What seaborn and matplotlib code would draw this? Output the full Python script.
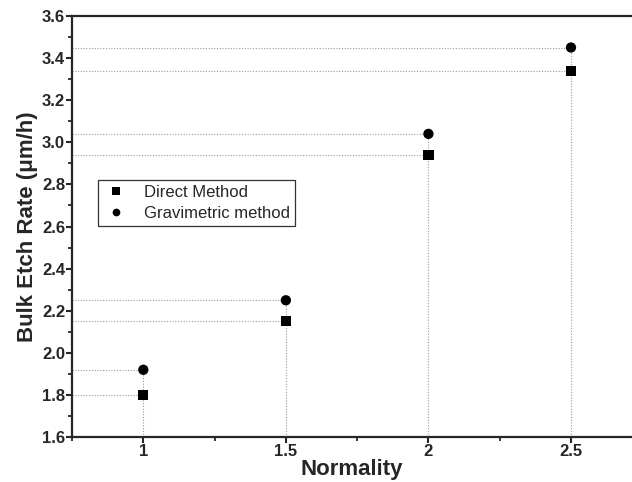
import numpy as np
import pandas as pd
import seaborn as sns
import matplotlib.pyplot as plt
from matplotlib.ticker import MultipleLocator

normality = [1.0, 1.5, 2.0, 2.5]
direct = [1.80, 2.15, 2.94, 3.34]
gravimetric = [1.92, 2.25, 3.04, 3.45]

df = pd.DataFrame({
    'Normality': normality * 2,
    'Rate': direct + gravimetric,
    'Method': ['Direct Method'] * 4 + ['Gravimetric method'] * 4,
})

sns.set_style('ticks')
plt.rcParams['font.family'] = ['Liberation Sans', 'DejaVu Sans']

fig = plt.figure(figsize=(6.32, 4.82), dpi=100)
ax = fig.add_axes([0.114, 0.093, 0.886, 0.874])

x0, y0 = 0.75, 1.6
# dotted guide lines
for x, yd, yg in zip(normality, direct, gravimetric):
    ax.hlines([yd, yg], x0, x, colors='#999999', linestyles=(0, (1, 1.5)), lw=0.8, zorder=1)
    ax.vlines(x, y0, yg, colors='#999999', linestyles=(0, (1, 1.5)), lw=0.8, zorder=1)

sns.scatterplot(data=df, x='Normality', y='Rate', style='Method',
                markers={'Direct Method': 's', 'Gravimetric method': 'o'},
                color='black', s=55, edgecolor='black', linewidth=0, ax=ax, zorder=3)

ax.set_xlim(x0, 2.714)
ax.set_ylim(y0, 3.6)
ax.set_xticks(normality)
ax.set_xticklabels(['1', '1.5', '2', '2.5'])
ax.xaxis.set_minor_locator(MultipleLocator(0.25))
ax.yaxis.set_major_locator(MultipleLocator(0.2))
ax.yaxis.set_minor_locator(MultipleLocator(0.1))
ax.yaxis.set_major_formatter(plt.FormatStrFormatter('%.1f'))

for side in ['left', 'bottom', 'top']:
    ax.spines[side].set_linewidth(1.6)
    ax.spines[side].set_visible(True)
ax.spines['right'].set_visible(False)
ax.tick_params(which='major', direction='out', length=4, width=1.5,
               labelsize=12, pad=1)
ax.tick_params(which='minor', direction='out', length=3, width=1.3)
ax.tick_params(top=False, right=False, which='both')
for lab in ax.get_xticklabels() + ax.get_yticklabels():
    lab.set_fontweight('bold')

ax.set_xlabel('Normality', fontsize=16, fontweight='bold', labelpad=0)
ax.set_ylabel('Bulk Etch Rate (\u03bcm/h)', fontsize=16, fontweight='bold', labelpad=3)

leg = ax.legend(loc='upper left', bbox_to_anchor=(0.046, 0.611), borderaxespad=0,
                frameon=True, fancybox=False, edgecolor='black', fontsize=12,
                handletextpad=0.9, borderpad=0.3, labelspacing=0.35, markerscale=0.75,
                handlelength=1.6)
leg.get_frame().set_linewidth(0.9)

fig.savefig('out.png', dpi=100)
